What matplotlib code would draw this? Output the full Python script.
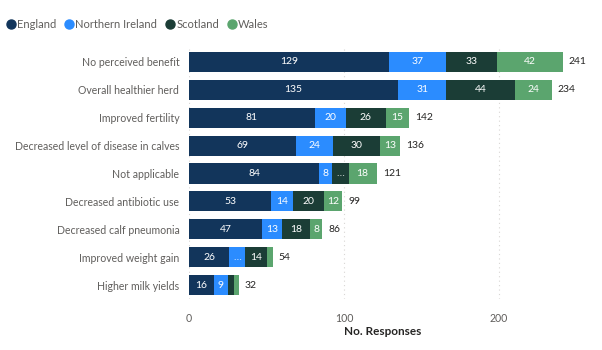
import matplotlib
matplotlib.use("Agg")
import matplotlib.pyplot as plt
import numpy as np

categories = ["No perceived benefit", "Overall healthier herd", "Improved fertility",
              "Decreased level of disease in calves", "Not applicable",
              "Decreased antibiotic use", "Decreased calf pneumonia",
              "Improved weight gain", "Higher milk yields"]
series_names = ["England", "Northern Ireland", "Scotland", "Wales"]
england = [129, 135, 81, 69, 84, 53, 47, 26, 16]
northern_ireland = [37, 31, 20, 24, 8, 14, 13, 10, 9]
scotland = [33, 44, 26, 30, 11, 20, 18, 14, 4]
wales = [42, 24, 15, 13, 18, 12, 8, 4, 3]
totals = [241, 234, 142, 136, 121, 99, 86, 54, 32]
x_ticks = [0, 100, 200]

colors = ["#12355B", "#2B8CFF", "#1B3D36", "#5BA56E"]

plt.rcParams['font.family'] = ['Lato', 'DejaVu Sans']

fig = plt.figure(figsize=(6.02, 3.5), dpi=100)
ax = fig.add_axes([189/602, 1-299/350, (576.5-189)/602, (299-48)/350])

y = np.arange(len(categories))
left = np.zeros(len(categories))
for name, vals, c in zip(series_names, [england, northern_ireland, scotland, wales], colors):
    vals = np.array(vals, dtype=float)
    ax.barh(y, vals, left=left, height=0.72, color=c, label=name, zorder=3)
    for yi, v, l in zip(y, vals, left):
        s = str(int(v))
        if v >= 6 * len(s):
            txt = s
        elif v >= 6:
            txt = "…"
        else:
            txt = ""
        if txt:
            ax.text(l + v / 2, yi, txt, ha="center", va="center", color="white",
                    fontsize=7.5, zorder=4)
    left += vals

for yi, t, l in zip(y, totals, left):
    ax.text(l + 4, yi, str(t), ha="left", va="center", color="#252423", fontsize=7.5)

ax.set_ylim(len(categories) - 0.5, -0.5)
ax.set_xlim(0, 250)
ax.set_yticks(y)
ax.set_yticklabels(categories, fontsize=7.6, color="#605E5C")
ax.set_xticks(x_ticks)
ax.set_xticklabels([str(t) for t in x_ticks], fontsize=7.6, color="#605E5C")
ax.tick_params(axis="both", length=0)
ax.tick_params(axis="y", pad=7)
ax.tick_params(axis="x", pad=10)
for s in ax.spines.values():
    s.set_visible(False)
ax.grid(axis="x", linestyle=(0, (1, 3)), color="#D8D6D4", linewidth=0.8, zorder=0)
ax.set_xlabel("No. Responses", fontsize=8.5, color="#252423", fontweight="bold", labelpad=1.5)

handles = [plt.Line2D([0], [0], marker="o", linestyle="", markersize=6.5,
                      markerfacecolor=c, markeredgecolor=c) for c in colors]
fig.legend(handles, series_names, loc="upper left", bbox_to_anchor=(0.0, 0.965),
           ncol=4, frameon=False, fontsize=8, handlelength=0.8, handletextpad=0.15,
           columnspacing=0.75, labelcolor="#605E5C", borderaxespad=0.2)

fig.savefig("out.png", dpi=100)
